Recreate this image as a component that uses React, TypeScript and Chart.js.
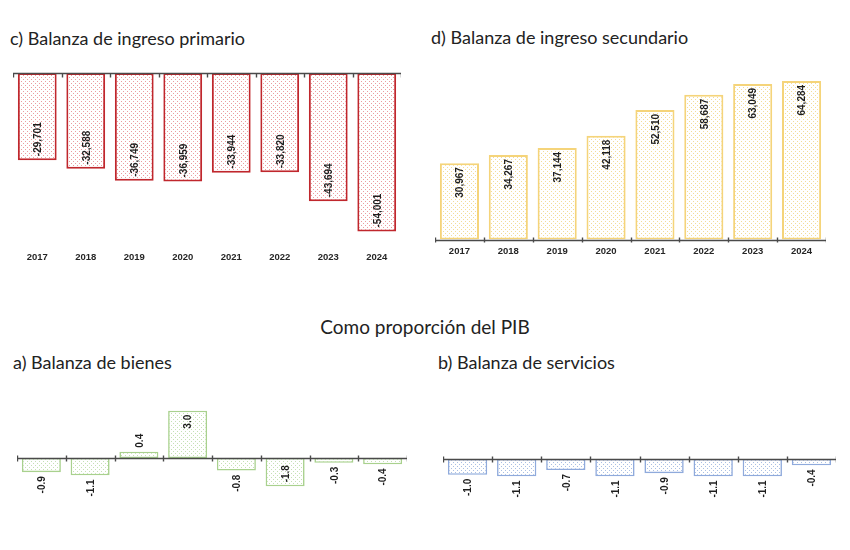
import React, { useEffect, useRef } from 'react';
import { Chart, registerables } from 'chart.js';
Chart.register(...registerables);

// ---------- data ----------
const years = ['2017', '2018', '2019', '2020', '2021', '2022', '2023', '2024'];
const ingresoPrimario = [-29701, -32588, -36749, -36959, -33944, -33820, -43694, -54001];
const ingresoSecundario = [30967, 34267, 37144, 42118, 52510, 58687, 63049, 64284];
const bienesPIB = [-0.9, -1.1, 0.4, 3.0, -0.8, -1.8, -0.3, -0.4];
const serviciosPIB = [-1.0, -1.1, -0.7, -1.1, -0.9, -1.1, -1.1, -0.4];

const fmtThousands = (v: number) => v.toLocaleString('en-US');
const fmtOne = (v: number) => v.toFixed(1);

function makeDots(bg: string, dot: string) {
  const c = document.createElement('canvas');
  c.width = 4;
  c.height = 4;
  const g = c.getContext('2d')!;
  g.fillStyle = bg;
  g.fillRect(0, 0, 4, 4);
  g.fillStyle = dot;
  g.fillRect(0, 0, 1, 1);
  g.fillRect(2, 2, 1, 1);
  return g.createPattern(c, 'repeat');
}

type PanelProps = {
  labels: string[];
  values: number[];
  left: number;
  top: number;
  width: number;
  height: number;
  min: number;
  max: number;
  border: string;
  dot: string;
  showX: boolean;
  padTop: number;
  xPad: number;
  fmt: (v: number) => string;
  tickUp: number;
  tickDown: number;
  borderWidth: number;
};

function Panel(p: PanelProps) {
  const ref = useRef<HTMLCanvasElement>(null);
  useEffect(() => {
    const pattern = makeDots('#ffffff', p.dot);
    const plugin = {
      id: 'axisAndLabels',
      afterDatasetsDraw(chart: any) {
        const { ctx, chartArea, scales } = chart;
        const y0 = Math.round(scales.y.getPixelForValue(0)) + 0.5;
        ctx.save();
        ctx.strokeStyle = '#4a4a4a';
        ctx.lineWidth = 1.4;
        ctx.beginPath();
        ctx.moveTo(chartArea.left, y0);
        ctx.lineTo(chartArea.right, y0);
        const n = chart.data.labels.length;
        const step = (chartArea.right - chartArea.left) / n;
        for (let i = 0; i <= n; i++) {
          const x = Math.round(chartArea.left + i * step) + 0.5;
          ctx.moveTo(x, y0 - p.tickUp);
          ctx.lineTo(x, y0 + p.tickDown);
        }
        ctx.stroke();
        const meta = chart.getDatasetMeta(0);
        const data = chart.data.datasets[0].data as number[];
        ctx.font = 'bold 10px "Liberation Sans", Arial, sans-serif';
        ctx.fillStyle = '#1e1e1e';
        ctx.textBaseline = 'middle';
        const pad = 4;
        meta.data.forEach((bar: any, i: number) => {
          const v = data[i];
          const txt = p.fmt(v);
          const { x, y, base } = bar.getProps(['x', 'y', 'base'], true);
          const len = Math.abs(base - y);
          const w = ctx.measureText(txt).width;
          const inside = w + 2 * pad <= len;
          let ay: number;
          let align: CanvasTextAlign;
          if (v >= 0) {
            if (inside) { ay = y + pad; align = 'right'; } else { ay = y - pad; align = 'left'; }
          } else {
            if (inside) { ay = y - pad; align = 'left'; } else { ay = y + pad; align = 'right'; }
          }
          ctx.save();
          ctx.translate(x + 1, ay);
          ctx.rotate(-Math.PI / 2);
          ctx.textAlign = align;
          ctx.fillText(txt, 0, 0);
          ctx.restore();
        });
        ctx.restore();
      },
    };
    const chart = new Chart(ref.current!, {
      type: 'bar',
      data: {
        labels: p.labels,
        datasets: [
          {
            data: p.values,
            backgroundColor: pattern as any,
            borderColor: p.border,
            borderWidth: p.borderWidth,
            borderSkipped: false,
            categoryPercentage: 0.8,
            barPercentage: 1,
          },
        ],
      },
      options: {
        animation: false,
        responsive: false,
        layout: { padding: { top: p.padTop, bottom: 0, left: 0, right: 0 } },
        plugins: {
          legend: { display: false },
          tooltip: { enabled: false },
          title: { display: false },
        },
        scales: {
          x: {
            display: p.showX,
            grid: { display: false, drawTicks: false },
            border: { display: false },
            ticks: {
              font: { family: '"Liberation Sans", Arial, sans-serif', size: 9.5, weight: 'bold' },
              color: '#262626',
              padding: p.xPad,
              maxRotation: 0,
              autoSkip: false,
            },
          },
          y: { display: false, min: p.min, max: p.max },
        },
      },
      plugins: [plugin],
    });
    return () => chart.destroy();
  }, []);
  return (
    <canvas
      ref={ref}
      width={p.width}
      height={p.height}
      style={{ position: 'absolute', left: p.left, top: p.top, width: p.width, height: p.height }}
    />
  );
}

const titleStyle = (left: number, top: number, size: number): React.CSSProperties => ({
  position: 'absolute',
  left,
  top,
  fontSize: size,
  lineHeight: 1,
  whiteSpace: 'nowrap',
  color: '#222',
});

export default function App() {
  return (
    <div
      style={{
        position: 'absolute',
        left: 0,
        top: 0,
        width: 850,
        height: 550,
        background: '#ffffff',
        fontFamily: 'Lato, "Open Sans", sans-serif',
        overflow: 'hidden',
      }}
    >
      <div style={titleStyle(10, 29, 18)}>c) Balanza de ingreso primario</div>
      <div style={titleStyle(431, 28, 18)}>d) Balanza de ingreso secundario</div>
      <div style={{ ...titleStyle(0, 317, 19), width: 850, textAlign: 'center' }}>Como proporción del PIB</div>
      <div style={titleStyle(13, 353, 18)}>a) Balanza de bienes</div>
      <div style={titleStyle(438, 353, 18)}>b) Balanza de servicios</div>

      <Panel
        labels={years}
        values={ingresoPrimario}
        left={13}
        top={69}
        width={388}
        height={200}
        min={-58800}
        max={0}
        border="#c0272d"
        dot="#eb9c9f"
        showX={true}
        padTop={4}
        xPad={6}
        fmt={fmtThousands}
        tickUp={0}
        tickDown={4}
        borderWidth={2}
      />
      <Panel
        labels={years}
        values={ingresoSecundario}
        left={435}
        top={71}
        width={391}
        height={192}
        min={0}
        max={68300}
        border="#f5d47a"
        dot="#f3dc98"
        showX={true}
        padTop={0}
        xPad={6}
        fmt={fmtThousands}
        tickUp={3}
        tickDown={2}
        borderWidth={2}
      />
      <Panel
        labels={years}
        values={bienesPIB}
        left={17}
        top={395}
        width={390}
        height={115}
        min={-3.3}
        max={4.0}
        border="#a9d18e"
        dot="#c6e0b4"
        showX={false}
        padTop={0}
        xPad={0}
        fmt={fmtOne}
        tickUp={3}
        tickDown={3}
        borderWidth={1.6}
      />
      <Panel
        labels={years}
        values={serviciosPIB}
        left={443}
        top={396}
        width={393}
        height={115}
        min={-3.3}
        max={4.0}
        border="#8faadc"
        dot="#a9bfe3"
        showX={false}
        padTop={0}
        xPad={0}
        fmt={fmtOne}
        tickUp={3}
        tickDown={3}
        borderWidth={1.6}
      />
    </div>
  );
}
